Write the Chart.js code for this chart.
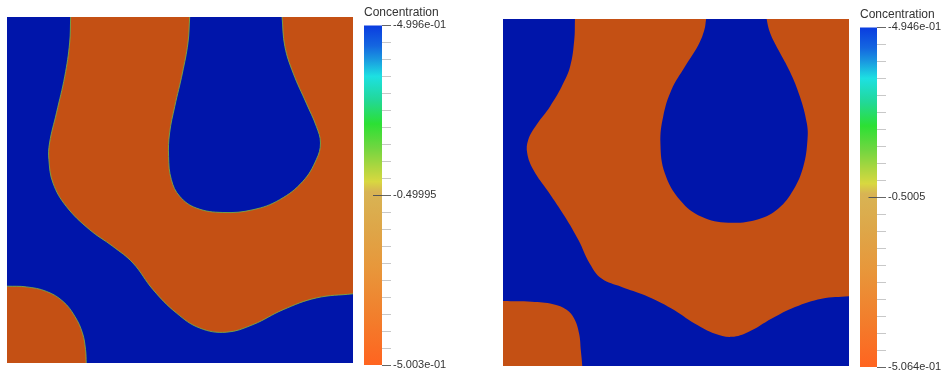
<!DOCTYPE html>
<html>
<head>
<meta charset="utf-8">
<script src="https://cdn.jsdelivr.net/npm/chart.js@4.4.0/dist/chart.umd.min.js"></script>
<style>
    body { margin: 0; background: #fff; }
    #page { position: relative; width: 948px; height: 377px; overflow: hidden; }
    canvas { position: absolute; }
</style>
</head>
<body>
<div id="page">
    <canvas id="field1" width="346" height="346" style="left:7px;top:17px"></canvas>
    <canvas id="bar1" width="92" height="377" style="left:360px;top:0px"></canvas>
    <canvas id="field2" width="346" height="347" style="left:503px;top:19px"></canvas>
    <canvas id="bar2" width="91" height="377" style="left:856px;top:2px"></canvas>
</div>
<script>
// 界面の輪郭（正規化座標 x:0-1, y:0-1, 下が0）
// 左の図
const leftBand = [
    [0.184, 1.000], [0.181, 0.925], [0.167, 0.829], [0.143, 0.723], [0.123, 0.636],
    [0.121, 0.588], [0.133, 0.520], [0.171, 0.453], [0.239, 0.385], [0.306, 0.337],
    [0.364, 0.289], [0.422, 0.212], [0.489, 0.145], [0.557, 0.101], [0.634, 0.089],
    [0.711, 0.111], [0.798, 0.154], [0.894, 0.188], [1.000, 0.200]
];
const leftDrop = [
    [0.528, 1.000], [0.523, 0.925], [0.507, 0.838], [0.485, 0.742], [0.470, 0.665],
    [0.467, 0.597], [0.475, 0.530], [0.499, 0.482], [0.547, 0.448], [0.624, 0.435],
    [0.711, 0.443], [0.788, 0.472], [0.855, 0.525], [0.894, 0.588], [0.906, 0.636],
    [0.894, 0.684], [0.865, 0.751], [0.827, 0.838], [0.803, 0.915], [0.795, 1.000]
];
const leftCorner = [
    [0.000, 0.222], [0.056, 0.220], [0.114, 0.207], [0.162, 0.178], [0.196, 0.135],
    [0.218, 0.087], [0.227, 0.039], [0.229, 0.000]
];
// 右の図
const rightBand = [
    [0.208, 1.000], [0.206, 0.940], [0.194, 0.863], [0.170, 0.806], [0.136, 0.748],
    [0.097, 0.695], [0.073, 0.652], [0.070, 0.613], [0.088, 0.565], [0.131, 0.502],
    [0.179, 0.430], [0.218, 0.363], [0.251, 0.295], [0.285, 0.252], [0.343, 0.228],
    [0.410, 0.204], [0.487, 0.166], [0.555, 0.122], [0.613, 0.093], [0.661, 0.084],
    [0.709, 0.098], [0.777, 0.137], [0.844, 0.170], [0.921, 0.194], [1.000, 0.201]
];
const rightDrop = [
    [0.587, 1.000], [0.582, 0.969], [0.565, 0.926], [0.526, 0.863], [0.487, 0.796],
    [0.463, 0.719], [0.455, 0.642], [0.468, 0.555], [0.512, 0.478], [0.574, 0.430],
    [0.651, 0.413], [0.738, 0.423], [0.796, 0.454], [0.839, 0.507], [0.868, 0.575],
    [0.880, 0.652], [0.878, 0.700], [0.858, 0.777], [0.829, 0.849], [0.796, 0.911],
    [0.772, 0.960], [0.762, 1.000]
];
const rightCorner = [
    [0.000, 0.187], [0.083, 0.185], [0.145, 0.178], [0.184, 0.162], [0.206, 0.136],
    [0.220, 0.093], [0.225, 0.045], [0.229, 0.000]
];

// カラーバーの範囲とラベル
const leftRange = [-0.5003, -0.4996];
const leftLabels = ['-5.003e-01', '-0.49995', '-4.996e-01'];
const rightRange = [-0.5064, -0.4946];
const rightLabels = ['-5.064e-01', '-0.5005', '-4.946e-01'];
const TICK_COUNT = 21;

// カラーマップ（0 = 上端）
const cmapStops = [
    [0.00, '#0a3ce0'], [0.06, '#1466e0'], [0.10, '#1a98e0'], [0.15, '#1de0e2'],
    [0.22, '#22d898'], [0.29, '#2ce034'], [0.36, '#70d640'], [0.42, '#b0d640'],
    [0.46, '#d8d840'], [0.49, '#d8b454'], [0.60, '#dea648'], [0.72, '#e8963a'],
    [0.86, '#f27e2c'], [1.00, '#ff6420']
];

const BLUE = '#0015aa';
const ORANGE = '#c45014';
const EPS = 0.002;
const FONT = "'Liberation Sans', Arial, sans-serif";

// 曲線＋直線の辺で閉じた形を作る（直線部分がtensionで膨らまないよう端に短い点を入れる）
function closedShape(curveA, corners, curveB = []) {
    const pts = curveA.slice();
    const path = corners.concat(curveB.slice(0, 1));
    let prev = curveA[curveA.length - 1];
    for (const p of path) {
        const dx = p[0] - prev[0], dy = p[1] - prev[1];
        const k = EPS / Math.hypot(dx, dy);
        pts.push([prev[0] + dx * k, prev[1] + dy * k], [p[0] - dx * k, p[1] - dy * k], p);
        prev = p;
    }
    return pts.concat(curveB.slice(1)).map(([x, y]) => ({ x, y }));
}

function toXY(list) {
    return list.map(([x, y]) => ({ x, y }));
}

function makeField(id, band, drop, corner, lineColor) {
    const square = toXY([[0, 0], [1, 0], [1, 1], [0, 1]]);
    const datasets = [
        { data: square, fill: 'shape', backgroundColor: BLUE, borderWidth: 0, tension: 0, order: 3 },
        { data: closedShape(band, [[1, 1]], drop.slice().reverse()), fill: 'shape',
          backgroundColor: ORANGE, borderWidth: 0, tension: 0.4, order: 2 },
        { data: closedShape(corner, [[0, 0]]), fill: 'shape',
          backgroundColor: ORANGE, borderWidth: 0, tension: 0.4, order: 2 }
    ];
    if (lineColor) {
        [band, drop, corner].forEach(c => {
            datasets.push({ data: toXY(c), fill: false, borderColor: lineColor,
                borderWidth: 1, tension: 0.4, order: 1 });
        });
    }
    new Chart(document.getElementById(id), {
        type: 'scatter',
        data: { datasets: datasets },
        options: {
            responsive: false,
            animation: false,
            events: [],
            showLine: true,
            elements: { point: { radius: 0 } },
            layout: { padding: 0 },
            plugins: { legend: { display: false }, tooltip: { enabled: false } },
            scales: {
                x: { type: 'linear', min: 0, max: 1, display: false },
                y: { type: 'linear', min: 0, max: 1, display: false }
            }
        }
    });
}

// 中央の目盛りをバーの中まで伸ばす
const midTick = {
    id: 'midTick',
    afterDatasetsDraw(chart) {
        const y = chart.scales.y;
        const area = chart.chartArea;
        const py = Math.round(y.getPixelForValue((y.min + y.max) / 2)) + 0.5;
        const ctx = chart.ctx;
        ctx.save();
        ctx.strokeStyle = '#555';
        ctx.lineWidth = 1;
        ctx.beginPath();
        ctx.moveTo(area.left + (area.right - area.left) / 2, py);
        ctx.lineTo(area.right, py);
        ctx.stroke();
        ctx.restore();
    }
};

function makeColorBar(id, range, labels) {
    const [lo, hi] = range;
    new Chart(document.getElementById(id), {
        type: 'bar',
        data: {
            labels: ['c'],
            datasets: [{
                data: [[lo, hi]],
                categoryPercentage: 1,
                barPercentage: 1,
                borderWidth: 0,
                backgroundColor: function(ctx) {
                    const area = ctx.chart.chartArea;
                    if (!area) return cmapStops[0][1];
                    const g = ctx.chart.ctx.createLinearGradient(0, area.top, 0, area.bottom);
                    cmapStops.forEach(([t, c]) => g.addColorStop(t, c));
                    return g;
                }
            }]
        },
        options: {
            responsive: false,
            animation: false,
            events: [],
            layout: { padding: { left: 4, right: 0, top: 0, bottom: 12 } },
            plugins: {
                legend: { display: false },
                tooltip: { enabled: false },
                title: {
                    display: true,
                    text: 'Concentration',
                    align: 'start',
                    color: '#333',
                    font: { family: FONT, size: 12, weight: 'normal' },
                    padding: { top: 5, bottom: 6 }
                }
            },
            scales: {
                x: { display: false },
                y: {
                    type: 'linear',
                    position: 'right',
                    min: lo,
                    max: hi,
                    afterBuildTicks: function(scale) {
                        const step = (hi - lo) / (TICK_COUNT - 1);
                        scale.ticks = Array.from({ length: TICK_COUNT }, (_, i) => ({ value: lo + i * step }));
                    },
                    afterFit: function(scale) { scale.width = 70; },
                    border: { display: false },
                    grid: {
                        drawOnChartArea: false,
                        drawTicks: true,
                        tickLength: 9,
                        color: ctx => (ctx.index % 10 === 0 ? '#666' : '#c8c8c8')
                    },
                    ticks: {
                        autoSkip: false,
                        padding: 2,
                        color: '#333',
                        font: { family: FONT, size: 11 },
                        callback: function(value, index) {
                            if (index === 0) return labels[0];
                            if (index === (TICK_COUNT - 1) / 2) return labels[1];
                            if (index === TICK_COUNT - 1) return labels[2];
                            return '';
                        }
                    }
                }
            }
        },
        plugins: [midTick]
    });
}

makeField('field1', leftBand, leftDrop, leftCorner, 'rgba(120, 176, 70, 0.85)');
makeField('field2', rightBand, rightDrop, rightCorner, null);
makeColorBar('bar1', leftRange, leftLabels);
makeColorBar('bar2', rightRange, rightLabels);
</script>
</body>
</html>
